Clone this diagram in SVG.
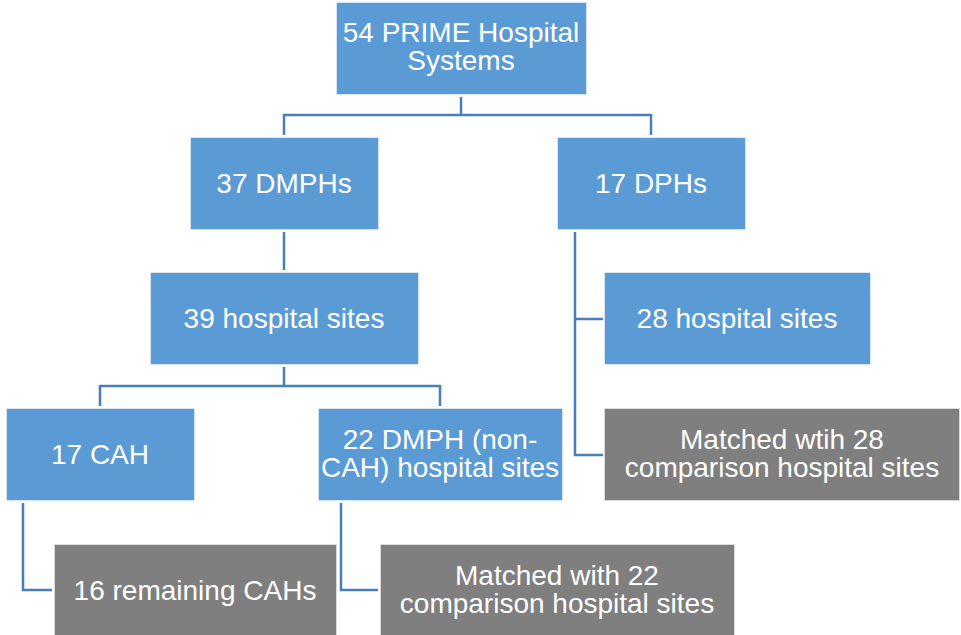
<svg xmlns="http://www.w3.org/2000/svg" width="961" height="635" viewBox="0 0 961 635">
<style>
.b{fill:#5B9BD5;stroke:#D6E4F3;stroke-width:1}
.g{fill:#7F7F7F;stroke:#D9D9D9;stroke-width:1}
text{font-family:"Liberation Sans",Arial,sans-serif;font-size:28px;fill:#fff;text-anchor:middle}
.c{fill:none;stroke:#4A7EBB;stroke-width:2.5}
</style>
<rect width="961" height="635" fill="#fff"/>
<g id="connectors">
<path class="c" d="M461,97 V115 M284,115 H651 M284,114 V135 M651,114 V135"/>
<path class="c" d="M284,232 V270"/>
<path class="c" d="M284,367 V386 M100,386 H440 M100,385 V406 M440,385 V406"/>
<path class="c" d="M575,232 V455 H603 M575,319 H603"/>
<path class="c" d="M23,503 V590 H52"/>
<path class="c" d="M341,503 V590 H378"/>
</g>
<g id="n1"><rect class="b" x="336.5" y="2.5" width="250" height="92"/><text x="461" y="42">54 PRIME Hospital</text><text x="461" y="70">Systems</text></g>
<g id="n2"><rect class="b" x="190.5" y="137.5" width="188" height="92"/><text x="284" y="193">37 DMPHs</text></g>
<g id="n3"><rect class="b" x="557.5" y="137.5" width="188" height="92"/><text x="651" y="193">17 DPHs</text></g>
<g id="n4"><rect class="b" x="150.5" y="272.5" width="268" height="92"/><text x="284" y="328">39 hospital sites</text></g>
<g id="n5"><rect class="b" x="604.5" y="272.5" width="266" height="92"/><text x="737" y="328">28 hospital sites</text></g>
<g id="n6"><rect class="b" x="6.5" y="408.5" width="188" height="92"/><text x="100" y="464">17 CAH</text></g>
<g id="n7"><rect class="b" x="318.5" y="408.5" width="244" height="92"/><text x="440" y="449">22 DMPH (non-</text><text x="440" y="477">CAH) hospital sites</text></g>
<g id="n8"><rect class="g" x="604.5" y="408.5" width="355" height="92"/><text x="782" y="449">Matched wtih 28</text><text x="782" y="477">comparison hospital sites</text></g>
<g id="n9"><rect class="g" x="54.5" y="544.5" width="282" height="92"/><text x="195" y="600">16 remaining CAHs</text></g>
<g id="n10"><rect class="g" x="380.5" y="544.5" width="354" height="92"/><text x="557" y="585">Matched with 22</text><text x="557" y="613">comparison hospital sites</text></g>
</svg>
